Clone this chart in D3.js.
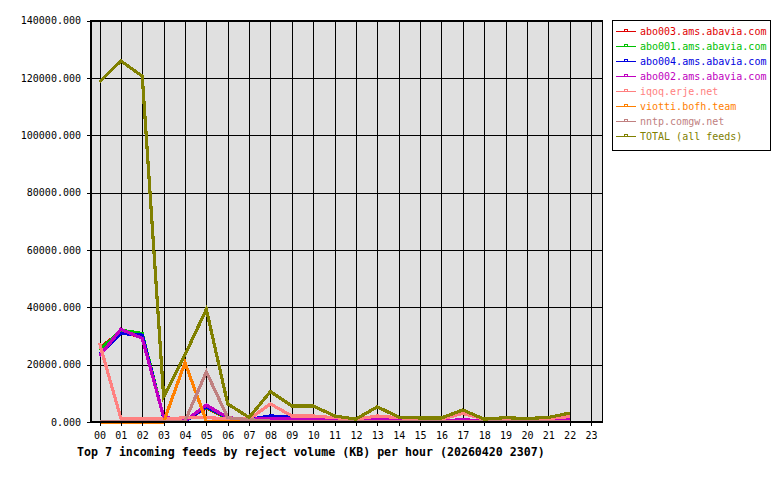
<!DOCTYPE html>
<html><head><meta charset="utf-8">
<script src="https://cdn.jsdelivr.net/npm/d3@7"></script>
<style>html,body{margin:0;padding:0;background:#fff;}svg{display:block;}</style>
</head><body>
<script>
const hours = ["00","01","02","03","04","05","06","07","08","09","10","11","12","13","14","15","16","17","18","19","20","21","22","23"];
const yTicks = [0,20000,40000,60000,80000,100000,120000,140000];
const seriesNames = ["abo003.ams.abavia.com","abo001.ams.abavia.com","abo004.ams.abavia.com","abo002.ams.abavia.com","iqoq.erje.net","viotti.bofh.team","nntp.comgw.net","TOTAL (all feeds)"];
const seriesColors = ["#e00000","#00c000","#0000e0","#c000c0","#ff8080","#ff8000","#c08080","#808000"];
const abo003 = [25800,31500,29500,1800,300,5000,1200,800,1200,800,800,700,300,800,400,300,300,600,300,300,300,400,400,null];
const abo001 = [25000,32000,30900,1600,300,5200,1200,800,1200,800,800,700,300,800,400,300,300,600,300,300,300,400,400,null];
const abo004 = [23700,30900,30300,1500,200,5300,1500,900,2100,1800,1200,800,300,800,400,300,300,500,300,300,300,400,400,null];
const abo002 = [23000,32300,29200,1800,300,5900,1500,900,1300,1300,1200,900,400,1000,500,400,400,800,400,400,400,700,700,null];
const iqoq   = [27500,1300,1300,1000,1500,1500,1200,1000,6300,2100,2100,1500,1000,2100,1500,1000,1000,3000,1000,1000,1000,1200,1900,null];
const viotti = [0,0,0,0,20700,300,200,200,200,200,200,200,200,200,200,200,200,200,200,200,200,200,200,null];
const nntp   = [300,300,300,300,300,17500,1500,800,300,300,300,300,300,300,300,300,300,300,300,300,300,300,300,null];
const total  = [118600,125900,120600,8800,23400,39300,6300,1600,10600,5600,5600,2100,1000,5300,1700,1400,1400,4200,1000,1500,1200,1600,3100,null];
const seriesValues = [abo003,abo001,abo004,abo002,iqoq,viotti,nntp,total];
const titleText = "Top 7 incoming feeds by reject volume (KB) per hour (20260420 2307)";

const W=780,H=480;
const L=91,R=602.5,T=20.5,B=422;
const svg=d3.select("body").append("svg").attr("width",W).attr("height",H);
const font="'DejaVu Sans Mono', monospace";

const x=d3.scaleLinear().domain([0,23]).range([99.5,591]);
const y=d3.scaleLinear().domain([0,140000]).range([B,T]);

svg.append("rect").attr("x",L).attr("y",T).attr("width",R-L).attr("height",B-T).attr("fill","#e0e0e0");

const grid=svg.append("g").attr("stroke","#000").attr("stroke-width",1).attr("shape-rendering","crispEdges");
grid.selectAll("line.v").data(hours).join("line").attr("class","v")
  .attr("x1",(d,i)=>Math.round(x(i))+0.5).attr("x2",(d,i)=>Math.round(x(i))+0.5).attr("y1",T).attr("y2",B);
grid.selectAll("line.h").data(yTicks).join("line").attr("class","h")
  .attr("x1",L).attr("x2",R).attr("y1",d=>Math.round(y(d))+0.5).attr("y2",d=>Math.round(y(d))+0.5);

const lines=svg.append("g");
seriesValues.forEach((vals,si)=>{
  const gen=d3.line().defined(d=>d!=null).x((d,i)=>x(i)).y(d=>y(d));
  lines.append("path").datum(vals).attr("d",gen).attr("fill","none")
    .attr("stroke",seriesColors[si]).attr("stroke-width",3.2).attr("stroke-linejoin","miter")
    .attr("shape-rendering","crispEdges");
});

svg.append("rect").attr("x",L).attr("y",T).attr("width",R-L).attr("height",B-T)
  .attr("fill","none").attr("stroke","#000").attr("stroke-width",1.5).attr("shape-rendering","crispEdges");

// y axis
const ya=svg.append("g").attr("transform",`translate(${L},0)`)
  .call(d3.axisLeft(y).tickValues(yTicks).tickFormat(d3.format(".3f")).tickSize(4).tickPadding(6));
ya.select(".domain").remove();
ya.selectAll("line").attr("stroke","#000").attr("shape-rendering","crispEdges");
ya.selectAll("text").attr("font-family",font).attr("font-size","10px").attr("fill","#000");

// x axis
const xa=svg.append("g").attr("transform",`translate(0,${B})`)
  .call(d3.axisBottom(x).tickValues(d3.range(24)).tickFormat(i=>hours[i]).tickSize(4).tickPadding(6));
xa.select(".domain").remove();
xa.selectAll("line").attr("stroke","#000").attr("shape-rendering","crispEdges");
xa.selectAll("text").attr("font-family",font).attr("font-size","10px").attr("fill","#000");

svg.append("text").attr("x",77).attr("y",456).attr("font-family",font).attr("font-weight","bold")
  .attr("font-size","11.6px").attr("fill","#000").text(titleText);

// legend
const lg=svg.append("g");
lg.append("rect").attr("x",612.5).attr("y",20.5).attr("width",158).attr("height",130)
  .attr("fill","#fff").attr("stroke","#000").attr("stroke-width",1).attr("shape-rendering","crispEdges");
seriesNames.forEach((n,i)=>{
  const yy=31.5+15*i;
  lg.append("line").attr("x1",616).attr("x2",636).attr("y1",yy).attr("y2",yy)
    .attr("stroke",seriesColors[i]).attr("stroke-width",1).attr("shape-rendering","crispEdges");
  lg.append("rect").attr("x",624.5).attr("y",yy-2.5).attr("width",3).attr("height",2)
    .attr("fill","none").attr("stroke",seriesColors[i]).attr("stroke-width",1).attr("shape-rendering","crispEdges");
  lg.append("text").attr("x",640).attr("y",yy+3.5).attr("font-family",font).attr("font-size","10px")
    .attr("fill",seriesColors[i]).text(n);
});
</script>
</body></html>
